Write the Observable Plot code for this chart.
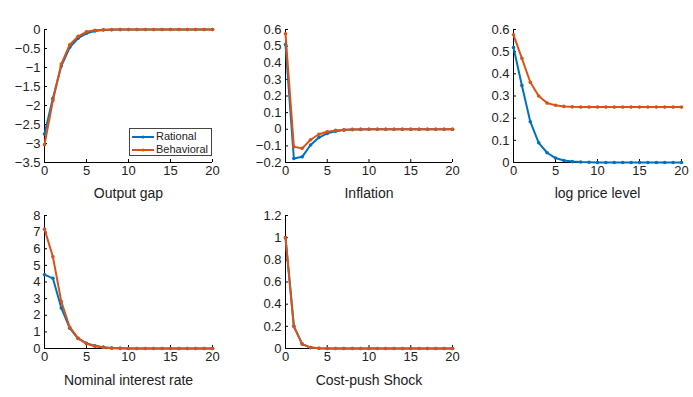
<!DOCTYPE html>
<html><head><meta charset="utf-8">
<script src="https://cdn.jsdelivr.net/npm/d3@7"></script>
<script src="https://cdn.jsdelivr.net/npm/@observablehq/plot@0.6"></script>
<style>
body{margin:0;background:#fff;}
#fig{position:relative;width:693px;height:397px;font-family:"Liberation Sans",Arial,Helvetica,sans-serif;background:#fff;overflow:hidden;}
.panel{position:absolute;}
.legend{position:absolute;left:129px;top:128px;width:81px;height:26px;border:1px solid #444;background:#fff;font-size:11px;color:#222;}
.legend .row{position:absolute;left:2px;height:13px;line-height:13px;white-space:nowrap;}
.legend svg{vertical-align:middle;margin-right:2px;}
</style></head><body><div id="fig"></div>
<script>
const periods = [0,1,2,3,4,5,6,7,8,9,10,11,12,13,14,15,16,17,18,19,20];
const xTicks = [0,5,10,15,20];
const seriesNames = ["Rational","Behavioral"];
const seriesColors = ["#0072BD","#D95319"];

const outputGapRational   = [-2.75,-1.81,-0.96,-0.47,-0.23,-0.10,-0.04,-0.015,-0.006,-0.002,0,0,0,0,0,0,0,0,0,0,0];
const outputGapBehavioral = [-3.03,-1.87,-0.91,-0.40,-0.18,-0.06,-0.02,-0.008,-0.003,-0.001,0,0,0,0,0,0,0,0,0,0,0];
const outputGapTicks = [0,-0.5,-1,-1.5,-2,-2.5,-3,-3.5];

const inflationRational   = [0.51,-0.176,-0.166,-0.095,-0.05,-0.025,-0.012,-0.005,-0.002,-0.001,0,0,0,0,0,0,0,0,0,0,0];
const inflationBehavioral = [0.574,-0.105,-0.115,-0.063,-0.03,-0.015,-0.007,-0.003,-0.001,0,0,0,0,0,0,0,0,0,0,0,0];
const inflationTicks = [-0.2,-0.1,0,0.1,0.2,0.3,0.4,0.5,0.6];

const priceRational   = [0.519,0.347,0.184,0.089,0.044,0.020,0.009,0.004,0.002,0.001,0,0,0,0,0,0,0,0,0,0,0];
const priceBehavioral = [0.576,0.470,0.362,0.300,0.268,0.258,0.253,0.251,0.250,0.250,0.250,0.250,0.250,0.250,0.250,0.250,0.250,0.250,0.250,0.250,0.250];
const priceTicks = [0,0.1,0.2,0.3,0.4,0.5,0.6];

const rateRational   = [4.44,4.22,2.44,1.22,0.60,0.32,0.16,0.08,0.03,0.01,0,0,0,0,0,0,0,0,0,0,0];
const rateBehavioral = [7.18,5.52,2.82,1.28,0.62,0.28,0.14,0.06,0.02,0.01,0,0,0,0,0,0,0,0,0,0,0];
const rateTicks = [0,1,2,3,4,5,6,7,8];

const shockRational   = [1,0.2,0.04,0.008,0.0016,0.0003,0.0001,0,0,0,0,0,0,0,0,0,0,0,0,0,0];
const shockBehavioral = [1,0.2,0.04,0.008,0.0016,0.0003,0.0001,0,0,0,0,0,0,0,0,0,0,0,0,0,0];
const shockTicks = [0,0.2,0.4,0.6,0.8,1,1.2];

const titles = ["Output gap","Inflation","log price level","Nominal interest rate","Cost-push Shock"];

const fmt = d3.format("~g");
const fig = document.getElementById("fig");

function panel(cfg) {
  const data = periods.map((t, i) => ({t, r: cfg.rational[i], b: cfg.behavioral[i]}));
  const yDomain = [d3.min(cfg.yTicks), d3.max(cfg.yTicks)];
  const chart = Plot.plot({
    width: cfg.width, height: cfg.height,
    marginLeft: cfg.mL, marginRight: cfg.mR, marginTop: cfg.mT, marginBottom: cfg.mB,
    style: {fontFamily: '"Liberation Sans",Arial,Helvetica,sans-serif', fontSize: "13px", color: "#222", background: "transparent", overflow: "visible"},
    x: {domain: [0, 20]},
    y: {domain: yDomain},
    marks: [
      Plot.axisX(xTicks, {tickSize: 0, tickPadding: 3, label: null, tickFormat: fmt}),
      Plot.axisX(xTicks, {tickSize: 3, dy: -3, fill: "none", stroke: "#000", label: null}),
      Plot.axisY(cfg.yTicks, {tickSize: 0, tickPadding: 4, label: null, tickFormat: fmt}),
      Plot.axisY(cfg.yTicks, {tickSize: 3, dx: 3, fill: "none", stroke: "#000", label: null}),
      Plot.ruleX([0], {stroke: "#000"}),
      Plot.ruleY([yDomain[0]], {stroke: "#000"}),
      Plot.line(data, {x: "t", y: "r", stroke: seriesColors[0], strokeWidth: 2}),
      Plot.dot(data, {x: "t", y: "r", r: 1.8, fill: seriesColors[0]}),
      Plot.line(data, {x: "t", y: "b", stroke: seriesColors[1], strokeWidth: 2}),
      Plot.dot(data, {x: "t", y: "b", r: 1.8, fill: seriesColors[1]}),
      Plot.text([cfg.title], {text: d => d, frameAnchor: "bottom", dy: cfg.titleDy, fontSize: 14, fill: "#222"})
    ]
  });
  const wrap = document.createElement("div");
  wrap.className = "panel";
  wrap.style.left = cfg.left + "px";
  wrap.style.top = cfg.top + "px";
  wrap.appendChild(chart);
  fig.appendChild(wrap);
}

panel({left: 0, top: 0, width: 231, height: 205, mL: 44, mR: 19, mT: 29, mB: 43, titleDy: 35, yTicks: outputGapTicks, rational: outputGapRational, behavioral: outputGapBehavioral, title: titles[0]});
panel({left: 231, top: 0, width: 231, height: 205, mL: 54, mR: 10, mT: 29, mB: 43, titleDy: 35, yTicks: inflationTicks, rational: inflationRational, behavioral: inflationBehavioral, title: titles[1]});
panel({left: 462, top: 0, width: 231, height: 205, mL: 51, mR: 12, mT: 29, mB: 43, titleDy: 35, yTicks: priceTicks, rational: priceRational, behavioral: priceBehavioral, title: titles[2]});
panel({left: 0, top: 205, width: 231, height: 192, mL: 44, mR: 19, mT: 10, mB: 49, titleDy: 36, yTicks: rateTicks, rational: rateRational, behavioral: rateBehavioral, title: titles[3]});
panel({left: 231, top: 205, width: 231, height: 192, mL: 54, mR: 10, mT: 10, mB: 49, titleDy: 36, yTicks: shockTicks, rational: shockRational, behavioral: shockBehavioral, title: titles[4]});

// legend
const legend = document.createElement("div");
legend.className = "legend";
seriesNames.forEach((name, i) => {
  const row = document.createElement("div");
  row.className = "row";
  row.style.top = (1 + i * 12.5) + "px";
  row.innerHTML = `<svg width="22" height="6"><line x1="0" y1="3" x2="22" y2="3" stroke="${seriesColors[i]}" stroke-width="2"/><circle cx="11" cy="3" r="1.6" fill="${seriesColors[i]}"/></svg><span>${name}</span>`;
  legend.appendChild(row);
});
fig.appendChild(legend);
</script>
</body></html>
